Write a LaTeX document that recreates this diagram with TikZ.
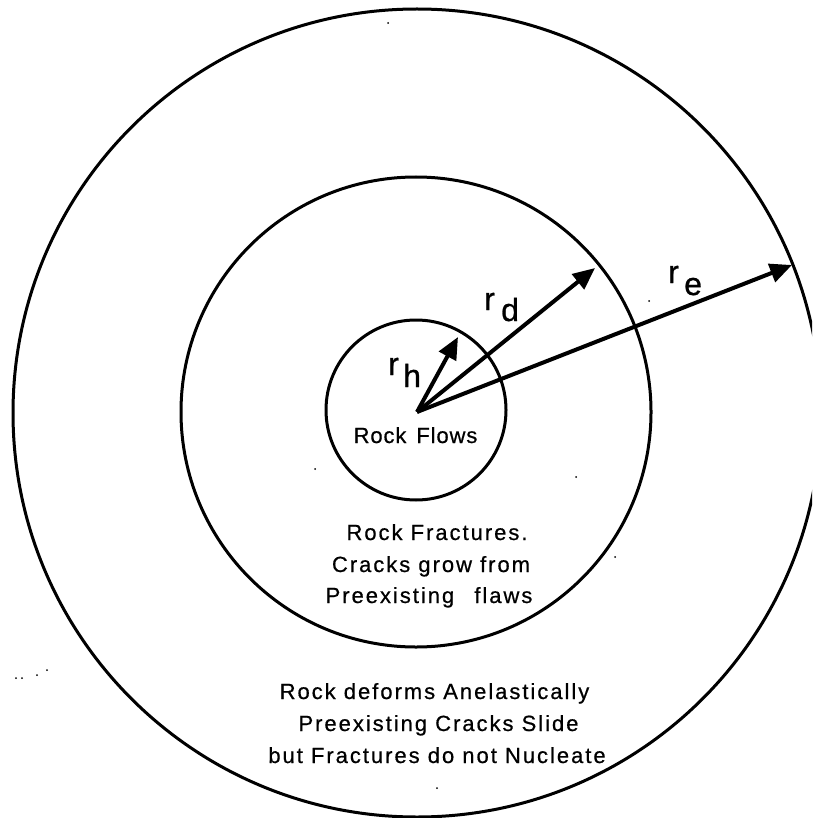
\documentclass[tikz,border=0pt]{standalone}
\usepackage{fontspec}
\setmainfont{Liberation Sans}
\newfontfamily\spacedfont[LetterSpace=9,FakeBold=0.6]{Liberation Sans}
\newfontfamily\flowfont[LetterSpace=4,FakeBold=0.6]{Liberation Sans}
\newfontfamily\labfont[FakeBold=0.8]{Liberation Sans}
\usetikzlibrary{arrows.meta}
\tikzset{
  ring/.style={line width=3pt, draw=black},
  ray/.style={line width=4pt, -{Triangle[length=22pt,width=19pt]}},
  body/.style={font=\spacedfont\fontsize{22}{26}\selectfont, inner sep=0pt, anchor=base},
  flow/.style={font=\flowfont\fontsize{22}{26}\selectfont, inner sep=0pt, anchor=base},
  lab/.style={font=\labfont\fontsize{32}{36}\selectfont, inner sep=0pt, anchor=base west},
  speck/.style={fill=black}
}
\begin{document}
\begin{tikzpicture}[x=1pt,y=-1pt]
\useasboundingbox (0,0) rectangle (812,818);
\begin{scope}
\clip (0,0) rectangle (812,818);
\draw[ring] (417,413) circle[radius=404pt];
\draw[ring] (416,412) circle[radius=235pt];
\draw[ring] (416,410) circle[radius=90pt];
\end{scope}
% rays
\coordinate (O) at (417,412);
\coordinate (th) at (458,337);
\coordinate (td) at (595,268);
\coordinate (te) at (792,265);
\draw[ray] (O) -- (th);
\draw[ray] (O) -- (td);
\draw[ray] (O) -- (te);
% labels
\node[lab] (rhr) at (388,375) {r};
\node[lab] (rhs) at (403,387) {h};
\node[lab] (rdr) at (484,310) {r};
\node[lab] (rds) at (501,321) {d};
\node[lab] (rer) at (668,283) {r};
\node[lab] (res) at (684,295) {e};
% texts
\node[flow] (t1) at (415.5,443) {Rock\hspace{3pt} Flows};
\node[body] (t2) at (437,540) {Rock Fractures.};
\node[body] (t3) at (431,572) {Cracks grow from};
\node[body] (t4) at (429,603) {Preexisting\hspace{12pt} flaws};
\node[body] (t5) at (434.5,699) {Rock deforms Anelastically};
\node[body] (t6) at (438.5,731) {Preexisting Cracks Slide};
\node[body] (t7) at (437,763) {but Fractures do not Nucleate};
% specks
\foreach \p in {(16,678),(22,678),(37,675),(47,670),(649,301),(388,23),(315,469),(576,477),(615,557),(437,788)}
  \fill[speck] \p circle[radius=1pt];
\end{tikzpicture}
\end{document}
